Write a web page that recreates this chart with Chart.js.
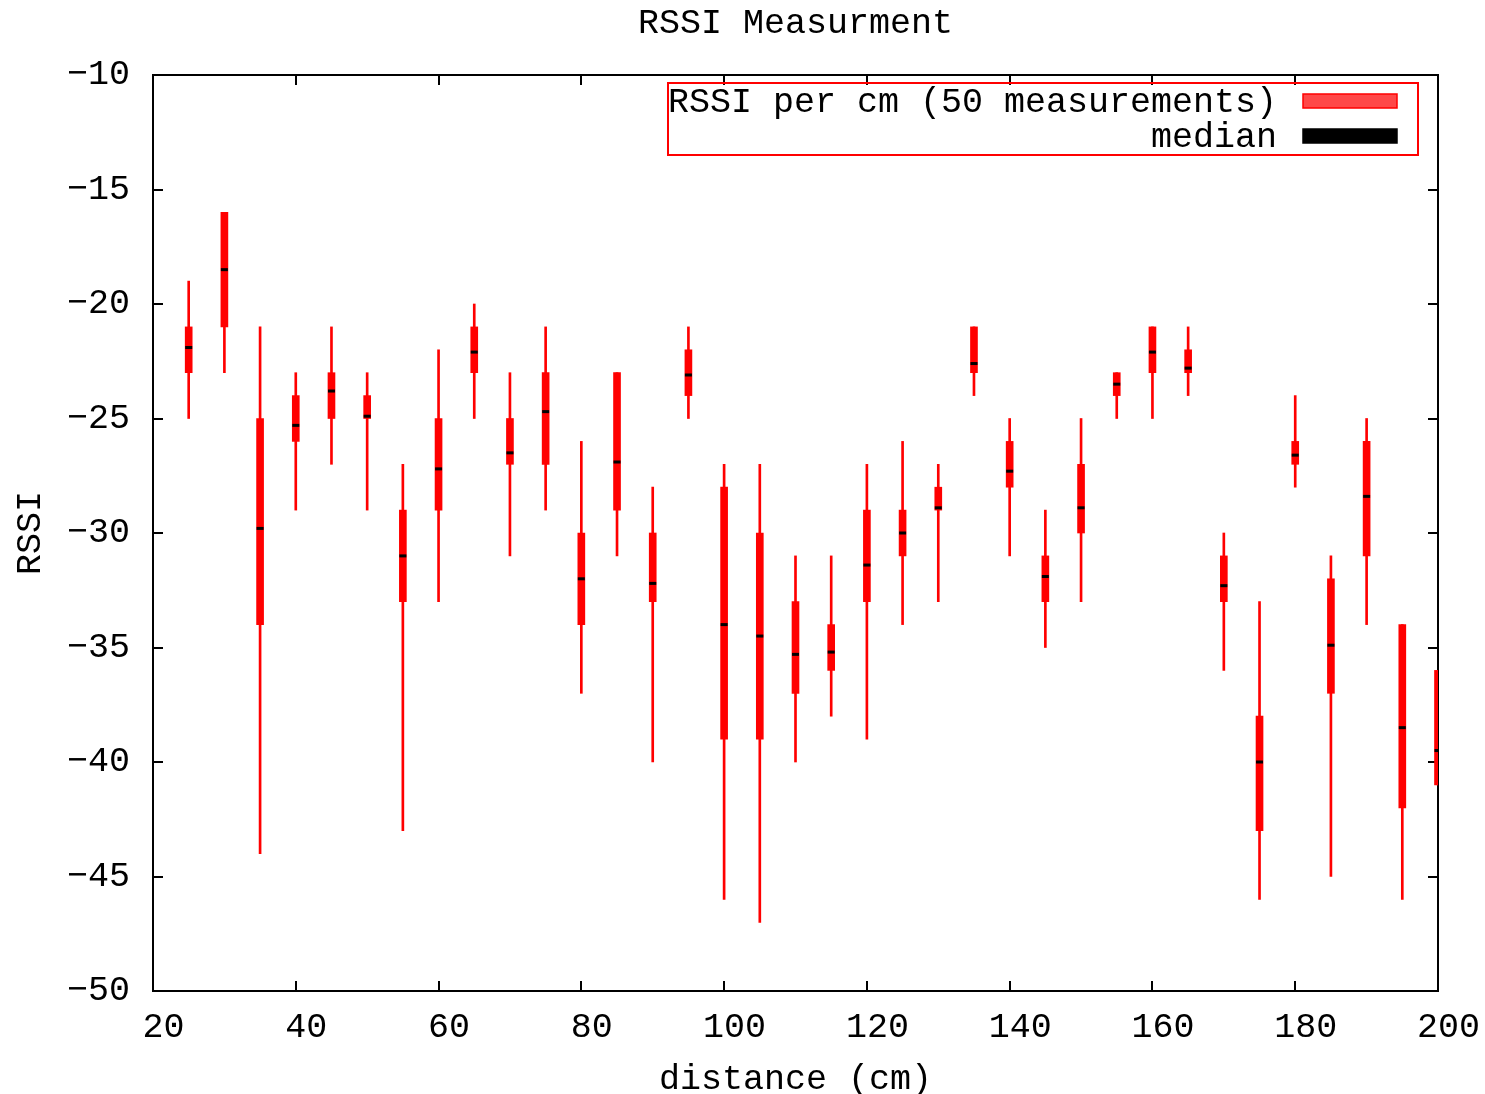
<!DOCTYPE html>
<html><head><meta charset="utf-8">
<script src="https://cdn.jsdelivr.net/npm/chart.js@4/dist/chart.umd.min.js"></script>
<style>html,body{margin:0;padding:0;background:#fff;}#wrap{width:1485px;height:1094px;}</style>
</head><body><div id="wrap"><canvas id="c" width="1485" height="1094"></canvas></div>
<script>
const titleText = 'RSSI Measurment';
const xTitle = 'distance (cm)';
const yTitle = 'RSSI';
const seriesLabel = 'RSSI per cm (50 measurements)';
const medianLabel = 'median';

const distances   = [25, 30, 35, 40, 45, 50, 55, 60, 65, 70, 75, 80, 85, 90, 95, 100, 105, 110, 115, 120, 125, 130, 135, 140, 145, 150, 155, 160, 165, 170, 175, 180, 185, 190, 195, 200];
const whiskerLow  = [-25, -23, -44, -29, -27, -29, -43, -33, -25, -31, -29, -37, -31, -40, -25, -46, -47, -40, -38, -39, -34, -33, -24, -31, -35, -33, -25, -25, -24, -36, -46, -28, -45, -34, -46, -41];
const boxLow      = [-23, -21, -34, -26, -25, -25, -33, -29, -23, -27, -27, -34, -29, -33, -24, -39, -39, -37, -36, -33, -31, -29, -23, -28, -33, -30, -24, -23, -23, -33, -43, -27, -37, -31, -42, -41];
const medians     = [-21.9, -18.5, -29.8, -25.3, -23.8, -24.9, -31.0, -27.2, -22.1, -26.5, -24.7, -32.0, -26.9, -32.2, -23.1, -34.0, -34.5, -35.3, -35.2, -31.4, -30.0, -28.9, -22.6, -27.3, -31.9, -28.9, -23.5, -22.1, -22.8, -32.3, -40.0, -26.6, -34.9, -28.4, -38.5, -39.5];
const boxHigh     = [-21, -16, -25, -24, -23, -24, -29, -25, -21, -25, -23, -30, -23, -30, -22, -28, -30, -33, -34, -29, -29, -28, -21, -26, -31, -27, -23, -21, -22, -31, -38, -26, -32, -26, -34, -36];
const whiskerHigh = [-19, -16, -21, -23, -21, -23, -27, -22, -20, -23, -21, -26, -23, -28, -21, -27, -27, -31, -31, -27, -26, -27, -21, -25, -29, -25, -23, -21, -21, -30, -33, -24, -31, -25, -34, -36];

const xTickValues = [20, 40, 60, 80, 100, 120, 140, 160, 180, 200];
const yTickValues = [-50, -45, -40, -35, -30, -25, -20, -15, -10];

const FONT = "'Liberation Mono', 'DejaVu Sans Mono', monospace";
const RED = '#ff0000';

const whiskerData = distances.map((d, i) => ({x: d, y: [whiskerLow[i], whiskerHigh[i]]}));
const boxData = distances.map((d, i) => ({x: d, y: [boxLow[i], boxHigh[i]]}));
const medianData = distances.map((d, i) => ({x: d, y: medians[i]}));

const framePlugin = {
  id: 'gnuframe',
  beforeDatasetsDraw(chart) {
    const {ctx, chartArea: a, scales} = chart;
    ctx.save();
    ctx.strokeStyle = '#000';
    ctx.lineWidth = 2;
    ctx.strokeRect(a.left, a.top, a.right - a.left, a.bottom - a.top);
    ctx.beginPath();
    xTickValues.forEach(v => {
      const px = Math.round(scales.x.getPixelForValue(v));
      ctx.moveTo(px, a.bottom); ctx.lineTo(px, a.bottom - 10);
      ctx.moveTo(px, a.top); ctx.lineTo(px, a.top + 10);
    });
    yTickValues.forEach(v => {
      const py = Math.round(scales.y.getPixelForValue(v));
      ctx.moveTo(a.left, py); ctx.lineTo(a.left + 10, py);
      ctx.moveTo(a.right, py); ctx.lineTo(a.right - 10, py);
    });
    ctx.stroke();
    ctx.restore();
  },
  afterDraw(chart) {
    const {ctx, chartArea: a} = chart;
    ctx.save();
    const L = a.left + 515, R = a.right - 20, T = a.top + 8, B = a.top + 80;
    ctx.strokeStyle = RED;
    ctx.lineWidth = 2;
    ctx.strokeRect(L, T, R - L, B - T);
    ctx.font = '35px ' + FONT;
    ctx.textAlign = 'right';
    ctx.textBaseline = 'middle';
    const textRight = R - 141;
    const sL = R - 115, sW = 94;
    const rows = [{label: chart.data.datasets[1].label, fill: '#ff4848', stroke: RED, y: T + 18},
                  {label: chart.data.datasets[2].label, fill: '#000', stroke: '#000', y: T + 53}];
    rows.forEach(r => {
      ctx.fillStyle = '#000';
      ctx.fillText(r.label, textRight, r.y + 2);
      ctx.fillStyle = r.fill;
      ctx.fillRect(sL, r.y - 7, sW, 14);
      ctx.strokeStyle = r.stroke;
      ctx.lineWidth = 1.5;
      ctx.strokeRect(sL, r.y - 7, sW, 14);
    });
    ctx.restore();
  }
};

new Chart(document.getElementById('c'), {
  type: 'bar',
  data: {
    datasets: [
      {label: 'whiskers', data: whiskerData, backgroundColor: RED, borderWidth: 0, barThickness: 2, grouped: false, order: 3},
      {label: seriesLabel, data: boxData, backgroundColor: RED, borderWidth: 0, barThickness: 7, grouped: false, order: 2},
      {type: 'scatter', label: medianLabel, data: medianData, pointStyle: 'line', radius: 3.5, borderColor: '#000', borderWidth: 3, backgroundColor: '#000', order: 1}
    ]
  },
  options: {
    responsive: false,
    animation: false,
    layout: {padding: {left: 0, right: 47, top: 0, bottom: 0}},
    plugins: {
      legend: {display: false},
      tooltip: {enabled: false},
      title: {display: true, fullSize: false, text: titleText, color: '#000', font: {family: FONT, size: 35, weight: 'normal', lineHeight: 1.2}, padding: {top: 3, bottom: 30}}
    },
    scales: {
      x: {
        type: 'linear', min: 20, max: 200, offset: false,
        afterBuildTicks(scale) { scale.ticks = xTickValues.map(v => ({value: v})); },
        afterFit(scale) { scale.height = 103; scale.paddingLeft = 0; scale.paddingRight = 0; },
        grid: {display: false, drawTicks: false},
        border: {display: false},
        ticks: {color: '#000', padding: 16, maxRotation: 0, font: {family: FONT, size: 35}, callback: v => ' ' + v},
        title: {display: true, text: xTitle, color: '#000', font: {family: FONT, size: 35, lineHeight: 0.8}, padding: {top: 0, bottom: 0}}
      },
      y: {
        type: 'linear', min: -50, max: -10,
        afterBuildTicks(scale) { scale.ticks = yTickValues.map(v => ({value: v})); },
        afterFit(scale) { scale.width = 153; scale.paddingTop = 0; scale.paddingBottom = 0; },
        grid: {display: false, drawTicks: false},
        border: {display: false},
        ticks: {color: '#000', padding: 23, font: {family: FONT, size: 35}, callback: v => String(v).replace('-', '\u2212')},
        title: {display: true, text: yTitle, color: '#000', font: {family: FONT, size: 35, lineHeight: 1.2}, padding: {top: 10, bottom: 0}}
      }
    }
  },
  plugins: [framePlugin]
});
</script></body></html>
